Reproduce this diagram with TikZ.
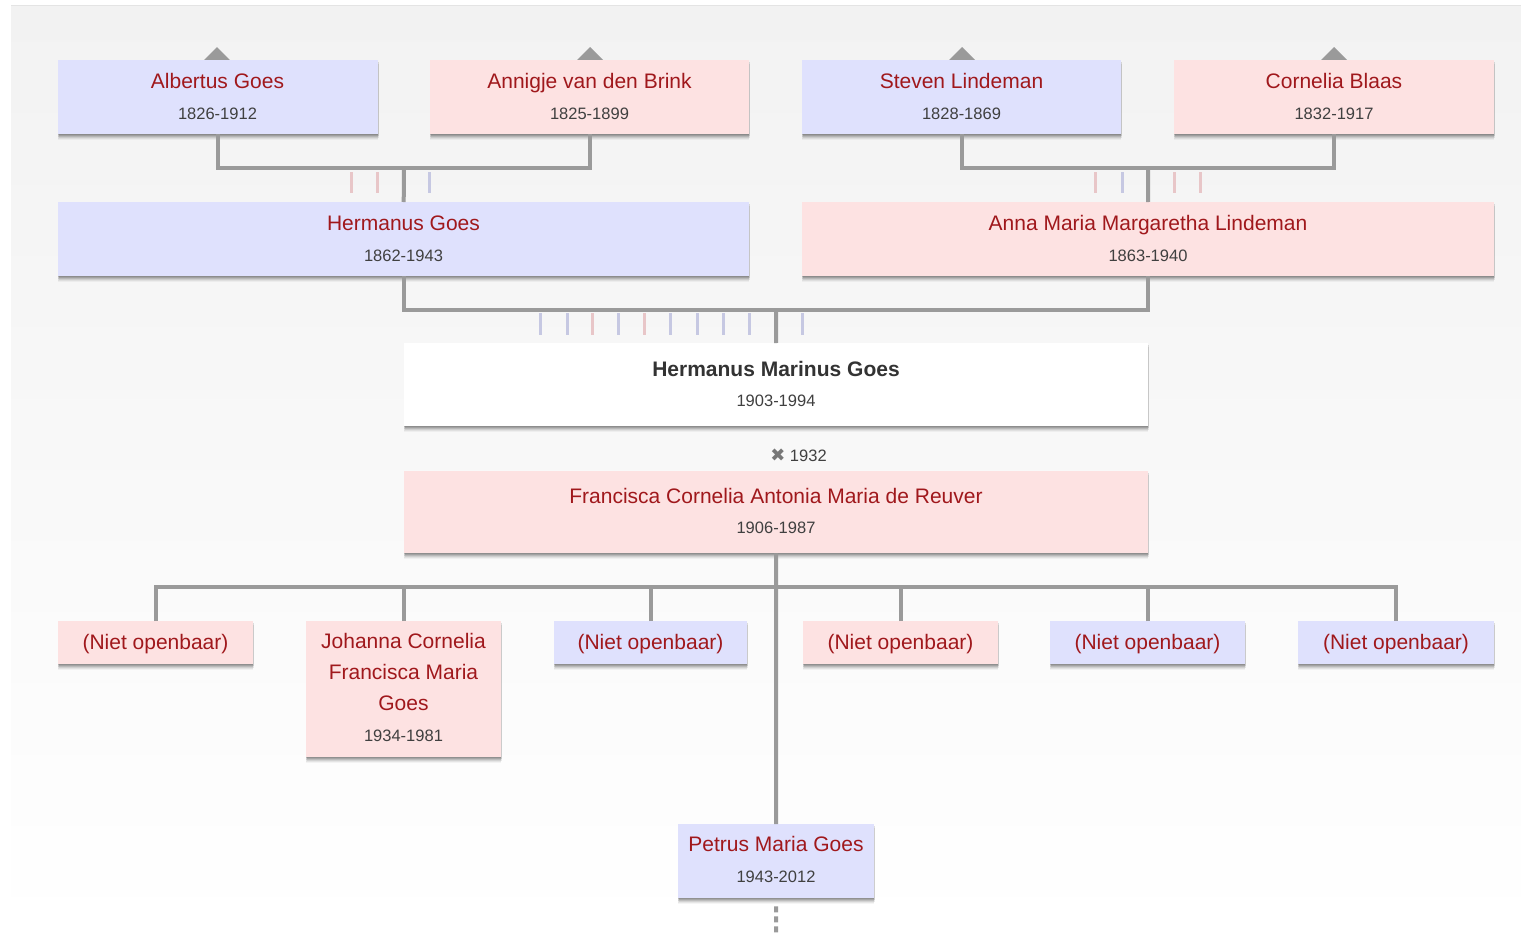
\documentclass[tikz,border=0pt]{standalone}
\usepackage{fontspec}
\setmainfont{Liberation Sans}
\newfontfamily\symfont{DejaVu Sans}
\usetikzlibrary{shadows}
\definecolor{bluef}{HTML}{DFE1FD}
\definecolor{pinkf}{HTML}{FDE2E2}
\definecolor{namec}{HTML}{A0181C}
\definecolor{datec}{HTML}{404040}
\definecolor{boldc}{HTML}{333333}
\definecolor{linec}{HTML}{9A9A9A}
\definecolor{tickb}{HTML}{C6C8E2}
\definecolor{tickp}{HTML}{E8C6C8}
\definecolor{bgtop}{HTML}{F2F2F2}
\definecolor{bgline}{HTML}{E4E4E4}
\definecolor{xcol}{HTML}{777777}
\begin{document}
\begin{tikzpicture}[x=1pt,y=-1pt,
  pbox/.style={draw=none, inner sep=0, anchor=north west,
    general shadow={fill=black, opacity=0.04, shadow yshift=-6pt},
    general shadow={fill=black, opacity=0.06, shadow yshift=-5pt},
    general shadow={fill=black, opacity=0.08, shadow yshift=-4pt, shadow xshift=1pt},
    general shadow={fill=black, opacity=0.10, shadow yshift=-3pt},
    general shadow={fill=black, opacity=0.12, shadow yshift=-2pt, shadow xshift=1pt},
    general shadow={fill=black, opacity=0.12, shadow yshift=-1pt}},
  bl/.style={pbox, fill=bluef},
  pk/.style={pbox, fill=pinkf},
  wh/.style={pbox, fill=white},
  nm/.style={anchor=base, inner sep=0, text=namec, font=\fontsize{21}{25}\selectfont},
  nb/.style={anchor=base, inner sep=0, text=boldc, font=\bfseries\fontsize{21}{25}\selectfont},
  dt/.style={anchor=base, inner sep=0, text=datec, font=\fontsize{16.5}{20}\selectfont},
  conn/.style={draw=linec, line width=4pt},
  tkb/.style={draw=tickb, line width=3pt},
  tkp/.style={draw=tickp, line width=3pt},
  tri/.style={fill=linec}
]
\useasboundingbox (0,0) rectangle (1521,932);
\fill[white] (0,0) rectangle (1521,932);
\shade[top color=bgtop, bottom color=white] (11,6) rectangle (1521,932);
\draw[bgline, line width=1pt] (11,5.5) -- (1521,5.5);

% triangles above the top generation
\fill[tri] (204,60) -- (217,47) -- (230,60) -- cycle;
\fill[tri] (577,60) -- (590,47) -- (603,60) -- cycle;
\fill[tri] (949,60) -- (962,47) -- (975,60) -- cycle;
\fill[tri] (1321,60) -- (1334,47) -- (1347,60) -- cycle;

% junction coordinates
\coordinate (j1) at (404,168);
\coordinate (j2) at (1148,168);
\coordinate (j3) at (776,310);
\coordinate (j4) at (776,587);
\coordinate (pend) at (776,934);

% ticks
\foreach \x in {351,377} \draw[tkp] (\x,172) -- (\x,193);
\draw[tkb] (429,172) -- (429,193);
\foreach \x in {1095,1174,1200} \draw[tkp] (\x,172) -- (\x,193);
\draw[tkb] (1122,172) -- (1122,193);
\foreach \x in {540,567,618,670,697,723,749,802} \draw[tkb] (\x,313) -- (\x,335);
\foreach \x in {592,644} \draw[tkp] (\x,313) -- (\x,335);

% generation 1
\node[bl, minimum width=320, minimum height=74] (alb) at (58,60) {};
\node[pk, minimum width=319, minimum height=74] (ann) at (430,60) {};
\node[bl, minimum width=319, minimum height=74] (ste) at (802,60) {};
\node[pk, minimum width=320, minimum height=74] (cor) at (1174,60) {};
\node[nm] (alb-n) at (217.5,88.5) {Albertus Goes};
\node[dt] (alb-d) at (217.5,119) {1826-1912};
\node[nm] (ann-n) at (589.5,88.5) {Annigje van den Brink};
\node[dt] (ann-d) at (589.5,119) {1825-1899};
\node[nm] (ste-n) at (961.5,88.5) {Steven Lindeman};
\node[dt] (ste-d) at (961.5,119) {1828-1869};
\node[nm] (cor-n) at (1334,88.5) {Cornelia Blaas};
\node[dt] (cor-d) at (1334,119) {1832-1917};

% generation 2
\node[bl, minimum width=691, minimum height=74] (hg) at (58,202) {};
\node[pk, minimum width=692, minimum height=74] (am) at (802,202) {};
\node[nm] (hg-n) at (403.5,230.5) {Hermanus Goes};
\node[dt] (hg-d) at (403.5,261) {1862-1943};
\node[nm] (am-n) at (1148,230.5) {Anna Maria Margaretha Lindeman};
\node[dt] (am-d) at (1148,261) {1863-1940};

% generation 3
\node[wh, minimum width=744, minimum height=83] (hmg) at (404,343) {};
\node[nb] (hmg-n) at (776,376) {Hermanus Marinus Goes};
\node[dt] (hmg-d) at (776,406) {1903-1994};
\node[dt] (mar) at (798.5,461) {{\symfont\fontsize{18}{20}\selectfont\color{xcol}✖} 1932};
\node[pk, minimum width=744, minimum height=82] (fc) at (404,471) {};
\node[nm] (fc-n) at (776,503) {Francisca Cornelia Antonia Maria de Reuver};
\node[dt] (fc-d) at (776,533) {1906-1987};

% children
\node[pk, minimum width=195, minimum height=43] (c1) at (58,621) {};
\node[pk, minimum width=195, minimum height=136] (c2) at (306,621) {};
\node[bl, minimum width=193, minimum height=43] (c3) at (554,621) {};
\node[pk, minimum width=195, minimum height=43] (c4) at (803,621) {};
\node[bl, minimum width=195, minimum height=43] (c5) at (1050,621) {};
\node[bl, minimum width=196, minimum height=43] (c6) at (1298,621) {};
\node[nm] (c1-n) at (155.5,649.5) {(Niet openbaar)};
\node[nm] (c2-n1) at (403.5,648.5) {Johanna Cornelia};
\node[nm] (c2-n2) at (403.5,679.5) {Francisca Maria};
\node[nm] (c2-n3) at (403.5,710.5) {Goes};
\node[dt] (c2-d) at (403.5,741) {1934-1981};
\node[nm] (c3-n) at (650.5,649.5) {(Niet openbaar)};
\node[nm] (c4-n) at (900.5,649.5) {(Niet openbaar)};
\node[nm] (c5-n) at (1147.5,649.5) {(Niet openbaar)};
\node[nm] (c6-n) at (1396,649.5) {(Niet openbaar)};
\node[bl, minimum width=196, minimum height=74] (pm) at (678,824) {};
\node[nm] (pm-n) at (776,851.5) {Petrus Maria Goes};
\node[dt] (pm-d) at (776,882) {1943-2012};

% connectors
\draw[conn] (alb.south) |- (j1) -| (ann.south);
\draw[conn] (j1) -- (hg.north);
\draw[conn] (ste.south) |- (j2) -| (cor.south);
\draw[conn] (j2) -- (am.north);
\draw[conn] (hg.south) |- (j3) -| (am.south);
\draw[conn] (j3) -- (hmg.north);
\draw[conn] (fc.south) -- (j4);
\draw[conn] (c1.north) |- (j4) -| (c6.north);
\draw[conn] (c2.north) -- (c2.north |- j4);
\draw[conn] (c3.north) -- (c3.north |- j4);
\draw[conn] (c4.north) -- (c4.north |- j4);
\draw[conn] (c5.north) -- (c5.north |- j4);
\draw[conn] (j4) -- (pm.north);
\draw[conn, dash pattern=on 6pt off 4pt] ([yshift=-8pt]pm.south) -- (pend);
\end{tikzpicture}
\end{document}
